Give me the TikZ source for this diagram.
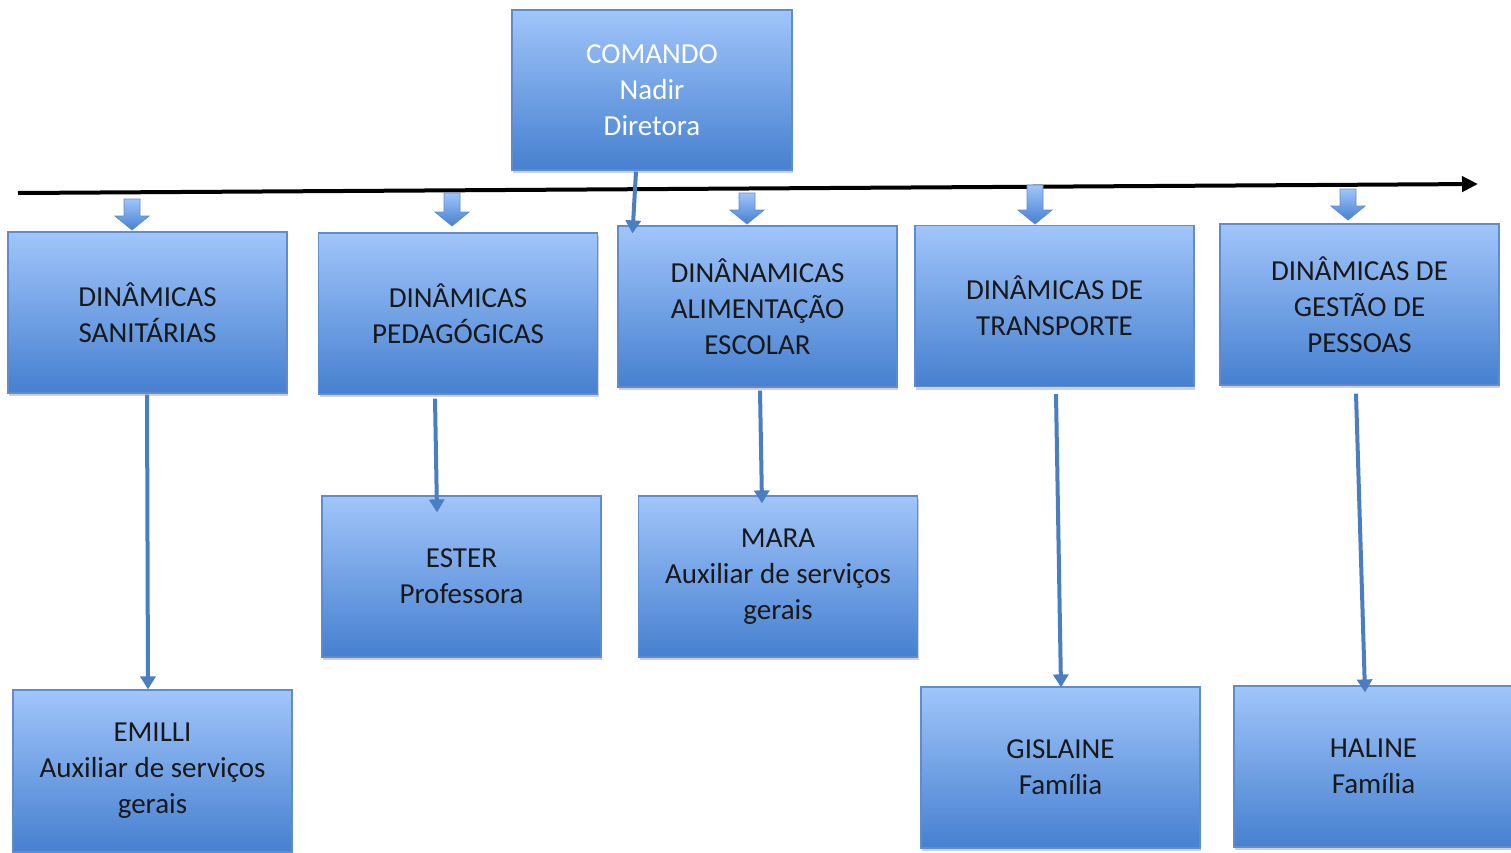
\documentclass[tikz,border=0pt]{standalone}
\usepackage{fontspec}
\setmainfont{Carlito}
\usetikzlibrary{shadows,arrows.meta,calc}
\definecolor{boxtop}{RGB}{160,197,250}
\definecolor{boxbot}{RGB}{70,128,208}
\definecolor{boxline}{RGB}{96,140,204}
\definecolor{conn}{RGB}{74,126,193}
\tikzset{
  orgbox/.style={draw=boxline, line width=1.2pt, top color=boxtop, bottom color=boxbot,
    minimum width=279pt, minimum height=161pt, align=center, inner sep=0pt,
    font=\fontsize{29}{36}\selectfont, text=black!90,
    drop shadow={shadow xshift=1pt, shadow yshift=-3pt, opacity=0.3, fill=black!60}},
  link/.style={draw=conn, line width=4pt, -{Triangle[length=13pt,width=15pt]}},
  blockarr/.style={draw=boxline, line width=0.8pt, top color=boxtop, bottom color=boxbot},
  pics/barrow/.style={code={
    \path[blockarr] (-8,0) -- (8,0) -- (8,#1-14) -- (17,#1-14) -- (0,#1) -- (-17,#1-14) -- (-8,#1-14) -- cycle;}},
}
\begin{document}
\begin{tikzpicture}[x=1pt,y=-1pt]
\useasboundingbox (0,0) rectangle (1511,852);
\clip (0,0) rectangle (1511,852);
\fill[white] (0,0) rectangle (1511,852);

% top box
\node[orgbox, minimum width=280pt, minimum height=160pt, text=white] (cmd) at (652,90) {COMANDO\\Nadir\\Diretora};

% horizontal line
\coordinate (hl0) at (18,193);
\coordinate (hl1) at (1478,184);
\draw[line width=4pt, -{Triangle[length=16pt,width=15pt]}] (hl0) -- (hl1);

% second row
\node[orgbox] (san) at (147.5,312.5) {DINÂMICAS\\SANITÁRIAS};
\node[orgbox] (ped) at (458,313.5) {DINÂMICAS\\PEDAGÓGICAS};
\node[orgbox] (ali) at (757.5,306.5) {DINÂNAMICAS\\ALIMENTAÇÃO\\ESCOLAR};
\node[orgbox] (tra) at (1054.5,306) {DINÂMICAS DE\\TRANSPORTE};
\node[orgbox] (ges) at (1359.5,304.5) {DINÂMICAS DE\\GESTÃO DE\\PESSOAS};

% block arrows
\pic at (132,199) {barrow=31};
\pic at (452,193) {barrow=33};
\pic at (747,193) {barrow=31};
\pic at (1035,185) {barrow=39};
\pic at (1348,189) {barrow=31};

% third row
\node[orgbox] (ester) at (461.5,576.5) {ESTER\\Professora};
\node[orgbox] (mara) at (778,576.5) {MARA\\Auxiliar de serviços\\gerais};
\node[orgbox, minimum height=162pt] (emilli) at (152.5,771) {EMILLI\\Auxiliar de serviços\\gerais};
\node[orgbox] (gis) at (1060.5,767.5) {GISLAINE\\Família};
\node[orgbox] (hal) at (1373.5,766.5) {HALINE\\Família};

% connectors
\draw[link] ([xshift=-16pt,yshift=-1pt]cmd.south) -- ([xshift=-125pt,yshift=-8pt]ali.north);
\draw[link] ([xshift=-0.5pt,yshift=-1pt]san.south) -- ([xshift=-4.5pt,yshift=0pt]emilli.north);
\draw[link] ([xshift=-23pt,yshift=-4pt]ped.south) -- ([xshift=-24.5pt,yshift=-17pt]ester.north);
\draw[link] ([xshift=2.5pt,yshift=-3pt]ali.south) -- ([xshift=-16pt,yshift=-8pt]mara.north);
\draw[link] ([xshift=1.5pt,yshift=-7pt]tra.south) -- ([xshift=0.5pt,yshift=-1pt]gis.north);
\draw[link] ([xshift=-3.5pt,yshift=-8pt]ges.south) -- ([xshift=-8.5pt,yshift=-7pt]hal.north);
\end{tikzpicture}
\end{document}
